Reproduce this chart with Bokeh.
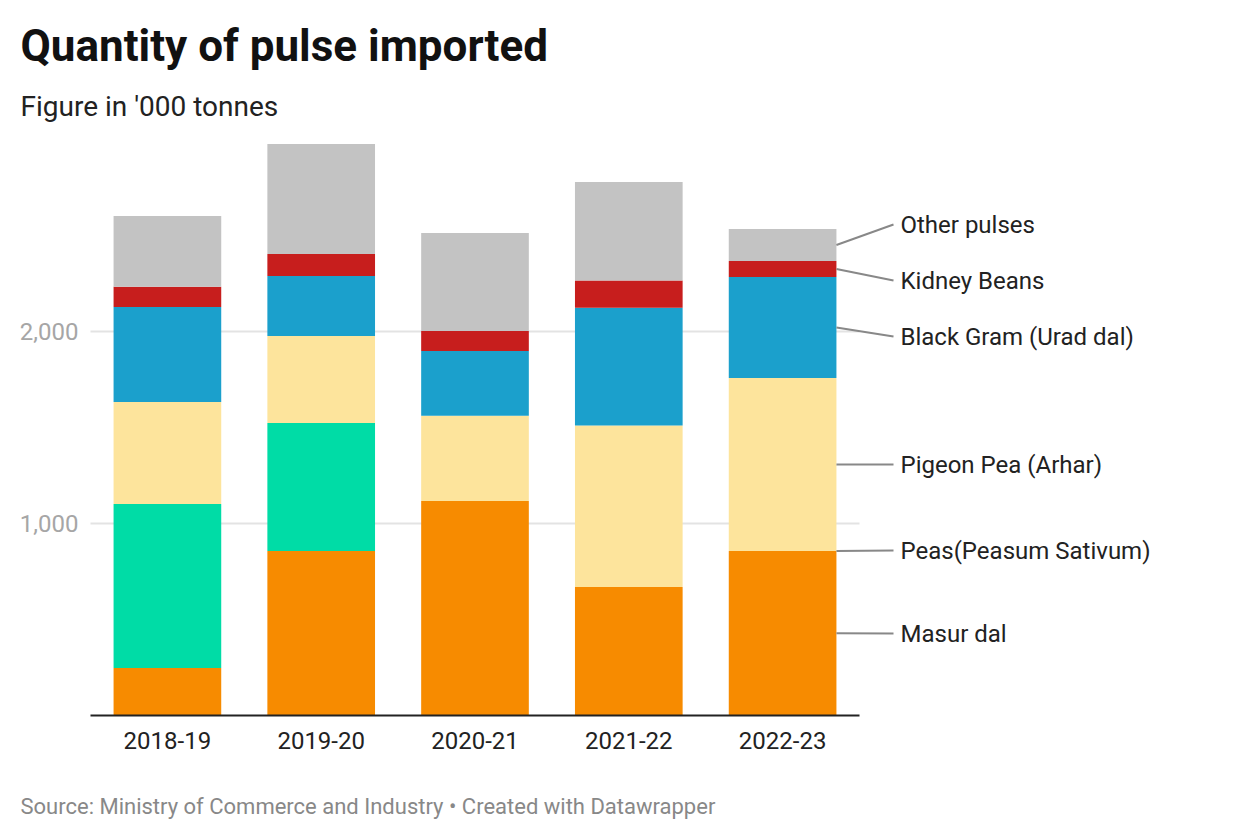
import numpy as np
from bokeh.plotting import figure
from bokeh.layouts import column
from bokeh.models import ColumnDataSource, Range1d, FixedTicker
from bokeh.embed import file_html
from bokeh.resources import INLINE
from bokeh.core.properties import value

# ---- data ('000 tonnes) ----
years = ["2018-19", "2019-20", "2020-21", "2021-22", "2022-23"]
masur = [247, 857, 1117, 669, 857]
peas = [854, 666, 0, 0, 0]
pigeon = [532, 454, 444, 841, 901]
black_gram = [495, 312, 337, 614, 526]
kidney = [105, 115, 104, 141, 83]
other = [369, 573, 511, 514, 167]

series_names = ["Masur dal", "Peas(Peasum Sativum)", "Pigeon Pea (Arhar)",
                "Black Gram (Urad dal)", "Kidney Beans", "Other pulses"]
y_ticks = [1000, 2000]

title = "Quantity of pulse imported"
subtitle = "Figure in '000 tonnes"
footer = "Source: Ministry of Commerce and Industry \u2022 Created with Datawrapper"

# ---- style / layout ----
colors = ["#F78B00", "#00DCA6", "#FDE49C", "#1BA0CC", "#C71E1D", "#C3C3C3"]
FONT = "Roboto"
W = 1240
FRAME_BOTTOM = 715    # page y of the value 0 baseline
AXIS_H = 65           # x-axis strip below frame (715..780)
FOOT_H = 60           # footer strip (780..840)
LEFT = 90             # page x of the start of the bar area
step_px = 153.8       # px per category
ppu = 0.192           # px per '000 tonnes


def sx_to_x(sx):
    return (sx - LEFT) / step_px


def sy_to_y(sy):
    return (FRAME_BOTTOM - sy) / ppu


keys = ["masur", "peas", "pigeon", "black", "kidney", "other"]
x = np.arange(len(years)) + 0.5
n = len(years)
source = ColumnDataSource(dict(x=x, masur=masur, peas=peas, pigeon=pigeon,
                               black=black_gram, kidney=kidney, other=other))

p = figure(width=W, height=FRAME_BOTTOM + AXIS_H,
           x_range=Range1d(sx_to_x(0), sx_to_x(W)),
           y_range=Range1d(0, sy_to_y(0)),
           min_border_left=0, min_border_right=0, min_border_top=0,
           min_border_bottom=AXIS_H, y_axis_type=None, output_backend="svg",
           toolbar_location=None, outline_line_color=None)
p.xgrid.visible = False
p.ygrid.visible = False

# horizontal grid lines over the bar area
p.segment(x0=[0] * len(y_ticks), x1=[n] * len(y_ticks), y0=y_ticks, y1=y_ticks,
          line_color="#E3E3E3", line_width=2)
# value labels for the grid lines
p.text(x=[sx_to_x(78)] * len(y_ticks), y=y_ticks,
       text=["{:,}".format(t) for t in y_ticks], text_font=value(FONT),
       text_font_size="24px", text_color="#A6A6A6", text_align="right",
       text_baseline="middle")

p.vbar_stack(keys, x="x", width=0.7, color=colors, line_color=None, source=source)

xa = p.xaxis[0]
xa.ticker = FixedTicker(ticks=list(x))
xa.major_label_overrides = {float(v): yr for v, yr in zip(x, years)}
xa.bounds = (0, n)
xa.axis_line_color = "#222222"
xa.axis_line_width = 2
xa.major_tick_line_color = None
xa.minor_tick_line_color = None
xa.major_label_text_font = FONT
xa.major_label_text_font_size = "24px"
xa.major_label_text_color = "#222222"
xa.major_label_standoff = 10

# direct labels for the last bar
last = n - 1
vals = [masur[last], peas[last], pigeon[last], black_gram[last], kidney[last], other[last]]
cum = np.cumsum([0] + vals)
mids = [(cum[i] + cum[i + 1]) / 2 for i in range(len(vals))]
label_sy = [633, 550, 464, 336, 280, 224]  # label layout (page px)
label_y = [sy_to_y(s) for s in label_sy]
bar_right = x[last] + 0.35
p.segment(x0=[bar_right] * 6, y0=mids, x1=[sx_to_x(893)] * 6, y1=label_y,
          line_color="#888888", line_width=2)
p.text(x=[sx_to_x(900)] * 6, y=label_y, text=series_names, text_font=value(FONT),
       text_font_size="24px", text_color="#222222", text_baseline="middle",
       text_align="left")

# title and subtitle
p.text(x=[sx_to_x(20)], y=[sy_to_y(45)], text=[title], text_font=value(FONT),
       text_font_style="bold", text_font_size="44px", text_color="#111111",
       text_baseline="middle")
p.text(x=[sx_to_x(20)], y=[sy_to_y(106)], text=[subtitle], text_font=value(FONT),
       text_font_size="28px", text_color="#222222", text_baseline="middle")

# ---- footer ----
foot = figure(width=W, height=FOOT_H, x_range=Range1d(0, W), y_range=Range1d(FOOT_H, 0),
              min_border=0, x_axis_type=None, y_axis_type=None, output_backend="svg",
              toolbar_location=None, outline_line_color=None)
foot.xgrid.visible = False
foot.ygrid.visible = False
foot.text(x=[20], y=[26], text=[footer], text_font=value(FONT),
          text_font_size="22px", text_color="#888888", text_baseline="middle")

layout = column(p, foot, spacing=0)
open("out.html", "w").write(file_html(layout, INLINE))
